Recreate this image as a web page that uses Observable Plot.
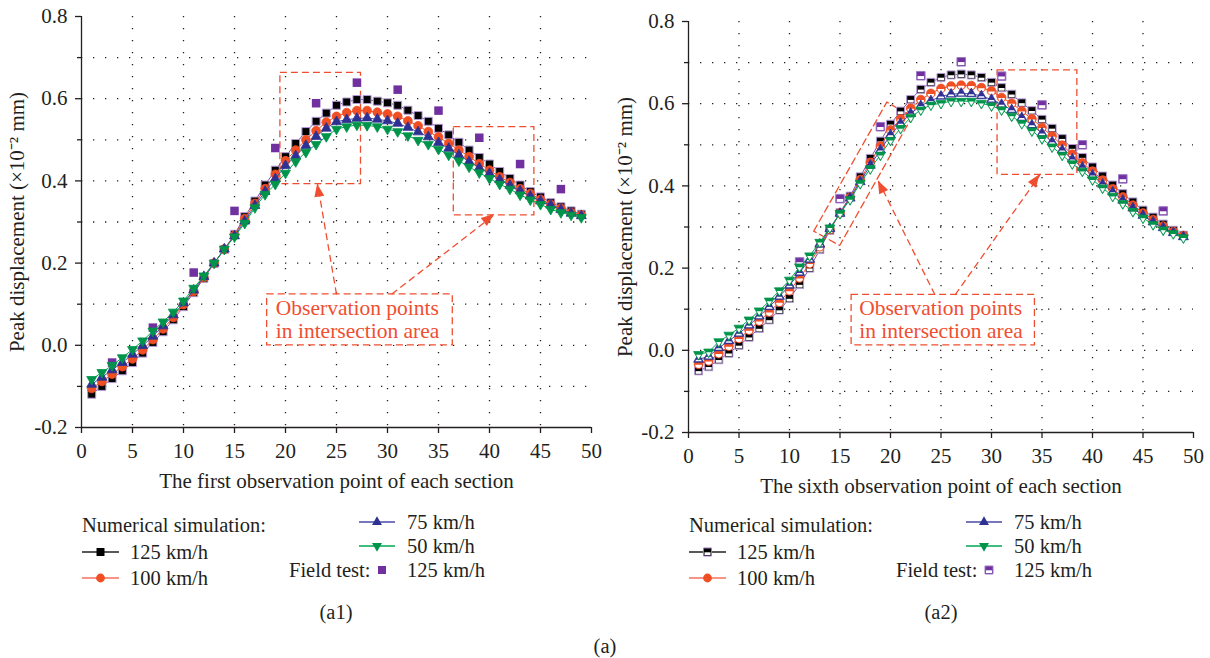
<!DOCTYPE html>
<html><head><meta charset="utf-8">
<script src="https://cdn.jsdelivr.net/npm/d3@7"></script>
<script src="https://cdn.jsdelivr.net/npm/@observablehq/plot@0.6"></script>
<style>
html,body{margin:0;padding:0;background:#fff;}
#root{position:relative;width:1210px;height:658px;overflow:hidden;font-family:"Liberation Serif","Times New Roman",serif;color:#231f20;}
.abs{position:absolute;white-space:nowrap;font-family:"Liberation Serif","Times New Roman",serif;font-size:20.5px;line-height:23px;height:23px;}
.plot{position:absolute;top:0;}
</style></head><body><div id="root"></div>
<script>
// ---------------- data ----------------
const obsPoints = [1,2,3,4,5,6,7,8,9,10,11,12,13,14,15,16,17,18,19,20,21,22,23,24,25,26,27,28,29,30,31,32,33,34,35,36,37,38,39,40,41,42,43,44,45,46,47,48,49];

const left125 = [-0.119,-0.100,-0.081,-0.062,-0.042,-0.019,0.007,0.033,0.062,0.094,
  0.128,0.163,0.199,0.233,0.270,0.313,0.351,0.390,0.426,0.459,
  0.491,0.520,0.545,0.565,0.584,0.592,0.598,0.598,0.594,0.590,
  0.584,0.572,0.559,0.545,0.528,0.512,0.494,0.475,0.457,0.441,
  0.423,0.406,0.390,0.374,0.361,0.347,0.337,0.327,0.319];
const left100 = [-0.105,-0.088,-0.070,-0.052,-0.033,-0.011,0.014,0.040,0.068,0.099,
  0.131,0.165,0.200,0.234,0.268,0.308,0.345,0.381,0.416,0.449,
  0.475,0.500,0.522,0.543,0.557,0.566,0.571,0.571,0.567,0.563,
  0.557,0.546,0.534,0.520,0.507,0.491,0.475,0.459,0.442,0.426,
  0.410,0.396,0.381,0.369,0.355,0.343,0.333,0.323,0.317];
const left75 = [-0.095,-0.078,-0.060,-0.042,-0.022,-0.001,0.022,0.047,0.074,0.103,
  0.134,0.167,0.200,0.234,0.266,0.302,0.340,0.374,0.405,0.437,
  0.461,0.486,0.508,0.528,0.544,0.549,0.552,0.553,0.550,0.546,
  0.540,0.530,0.519,0.507,0.493,0.479,0.463,0.447,0.432,0.418,
  0.403,0.389,0.376,0.363,0.351,0.341,0.330,0.321,0.315];
const left50 = [-0.083,-0.066,-0.049,-0.030,-0.010,0.011,0.035,0.057,0.081,0.108,
  0.139,0.169,0.200,0.234,0.264,0.297,0.335,0.367,0.392,0.419,
  0.447,0.470,0.489,0.508,0.526,0.532,0.536,0.535,0.532,0.526,
  0.520,0.510,0.499,0.489,0.477,0.463,0.449,0.434,0.420,0.406,
  0.392,0.380,0.366,0.354,0.343,0.331,0.323,0.317,0.311];
const leftFieldPoints = [3,7,11,15,19,23,27,31,35,39,43,47];
const leftField = [-0.042,0.043,0.177,0.327,0.480,0.589,0.639,0.622,0.571,0.505,0.441,0.380];

const right125 = [-0.050,-0.040,-0.023,-0.007,0.012,0.032,0.053,0.074,0.098,0.126,
  0.160,0.200,0.245,0.292,0.335,0.375,0.422,0.467,0.509,0.550,
  0.582,0.610,0.635,0.652,0.664,0.670,0.672,0.670,0.664,0.652,
  0.639,0.623,0.602,0.583,0.562,0.540,0.515,0.491,0.469,0.446,
  0.424,0.402,0.381,0.361,0.341,0.324,0.307,0.292,0.280];
const right100 = [-0.034,-0.026,-0.008,0.010,0.029,0.049,0.071,0.093,0.117,0.145,
  0.176,0.211,0.252,0.294,0.334,0.372,0.415,0.457,0.497,0.536,
  0.563,0.589,0.610,0.625,0.637,0.643,0.645,0.644,0.639,0.631,
  0.615,0.601,0.582,0.563,0.542,0.521,0.499,0.477,0.456,0.436,
  0.414,0.393,0.373,0.353,0.334,0.318,0.302,0.289,0.279];
const right75 = [-0.022,-0.015,0.006,0.023,0.041,0.061,0.083,0.106,0.131,0.158,
  0.189,0.221,0.258,0.296,0.333,0.370,0.410,0.450,0.487,0.524,
  0.552,0.576,0.595,0.607,0.618,0.623,0.625,0.624,0.619,0.610,
  0.598,0.585,0.566,0.548,0.528,0.507,0.487,0.465,0.445,0.426,
  0.404,0.385,0.365,0.346,0.328,0.312,0.298,0.286,0.276];
const right50 = [-0.010,-0.004,0.021,0.037,0.054,0.074,0.096,0.120,0.145,0.171,
  0.203,0.230,0.263,0.298,0.333,0.367,0.406,0.442,0.475,0.511,
  0.540,0.567,0.585,0.597,0.601,0.606,0.606,0.606,0.601,0.595,
  0.585,0.570,0.552,0.534,0.515,0.495,0.475,0.454,0.436,0.415,
  0.395,0.375,0.357,0.338,0.322,0.306,0.293,0.284,0.274];
const rightFieldPoints = [11,15,19,23,27,31,35,39,43,47];
const rightField = [0.215,0.369,0.544,0.668,0.702,0.667,0.597,0.500,0.417,0.339];

const xTicks = [0,5,10,15,20,25,30,35,40,45,50];
const xGridValues = [5,10,15,20,25,30,35,40,45];
const yTicks = [-0.2,0,0.2,0.4,0.6,0.8];
const yMinorTicks = [-0.1,0.1,0.3,0.5,0.7];
const yGridValues = [-0.1,0,0.1,0.2,0.3,0.4,0.5,0.6,0.7];

const yLabel = "Peak displacement (×10⁻² mm)";
const leftXLabel = "The first observation point of each section";
const rightXLabel = "The sixth observation point of each section";
const noteLines = ["Observation points", "in intersection area"];
const legendTitle = "Numerical simulation:";
const speedLabels = ["125 km/h", "100 km/h", "75 km/h", "50 km/h"];
const fieldLabel = "Field test:";

// annotation geometry (data coordinates)
const leftBoxes = [{x1:19.5,x2:27.4,y1:0.392,y2:0.663},{x1:36.5,x2:44.4,y1:0.316,y2:0.531}];
const leftNote = {x1:18.2,x2:36.4,y1:0.0,y2:0.124,tx:19.05,ty:[0.090,0.035]};
const leftArrows = [{x1:25.0,y1:0.124,x2:23.15,y2:0.392},{x1:30.4,y1:0.124,x2:40.5,y2:0.318}];
const rightBoxes = [{x1:30.6,x2:38.5,y1:0.427,y2:0.681}];
const rightTilted = [{x:12.4,y:0.290},{x:19.64,y:0.604},{x:22.13,y:0.568},{x:14.97,y:0.255},{x:12.4,y:0.290}];
const rightNote = {x1:16.15,x2:34.3,y1:0.012,y2:0.135,tx:16.9,ty:[0.102,0.047]};
const rightArrows = [{x1:24.4,y1:0.135,x2:18.8,y2:0.412},{x1:26.4,y1:0.135,x2:34.8,y2:0.427}];

// ---------------- styles ----------------
const FONT = '"Liberation Serif","Times New Roman",serif';
const INK = "#231f20";
const NOTE = "#f04e30";
const C125 = "#000000", C125edge = "#b59bd5", C125line = "#7b4fa6";
const C100 = "#f04e23";
const C75 = "#2e3192", C75line = "#4a4aa8";
const C50 = "#00944a", C50line = "#00a651";
const CFIELD = "#7030a0";

const SQ3 = Math.sqrt(3);
const triDown = {draw(c, size){ const y = Math.sqrt(size/(SQ3*3)); c.moveTo(0,2*y); c.lineTo(SQ3*y,-y); c.lineTo(-SQ3*y,-y); c.closePath(); }};
const halfSquare = {draw(c, size){ const h = Math.sqrt(size)/2 - 1; c.rect(-h, 0.3, 2*h, h-0.3); }};
const halfCircle = {draw(c, size){ const r = Math.sqrt(size/Math.PI) - 1.1; c.moveTo(r,0.5); c.arc(0,0.5,r,0,Math.PI); c.closePath(); }};
const halfTriUp = {draw(c, size){ const t = Math.sqrt(size/(SQ3*3)) - 0.9; const w = (2/3)*SQ3*t;
  c.moveTo(-w,0.3); c.lineTo(w,0.3); c.lineTo(SQ3*t,t); c.lineTo(-SQ3*t,t); c.closePath(); }};
const halfTriDown = {draw(c, size){ const t = (Math.sqrt(size/(SQ3*3)))*0.78; const w = (2/3)*SQ3*t;
  c.moveTo(-w,0.3); c.lineTo(w,0.3); c.lineTo(0,2*t); c.closePath(); }};

const R_SQ = 4.5, R_CI = 4.4, R_TR = 3.7;

function chart(cfg) {
  const ser = (arr, xsArr) => arr.map((v,i) => ({x: xsArr[i], y: v}));
  const d125 = ser(cfg.s125, obsPoints), d100 = ser(cfg.s100, obsPoints),
        d75 = ser(cfg.s75, obsPoints), d50 = ser(cfg.s50, obsPoints),
        dField = ser(cfg.field, cfg.fieldX);
  const half = cfg.half;
  const P = {x:"x", y:"y"};
  const marks = [
    Plot.gridY(yGridValues, {stroke: INK, strokeOpacity: 1, strokeWidth: 1.3, strokeDasharray: "1.3,10.7"}),
    Plot.gridX(xGridValues, {stroke: INK, strokeOpacity: 1, strokeWidth: 1.3, strokeDasharray: "1.3,10.7"}),
    Plot.rect(cfg.boxes, {x1:"x1", x2:"x2", y1:"y1", y2:"y2", fill:"none", stroke: NOTE, strokeWidth: 1.3, strokeDasharray: "7,4"}),
    Plot.rect([cfg.note], {x1:"x1", x2:"x2", y1:"y1", y2:"y2", fill:"white", stroke: NOTE, strokeWidth: 1.3, strokeDasharray: "7,4"}),
    Plot.link(cfg.arrows, {x1:"x1", y1:"y1", x2:"x2", y2:"y2", stroke: NOTE, strokeWidth: 1.3, strokeDasharray: "7,4"}),
    Plot.text(noteLines, {x: () => cfg.note.tx, y: (d,i) => cfg.note.ty[i], text: d => d, textAnchor: "start", fill: NOTE, fontSize: 21.5, fontFamily: FONT})
  ];
  if (cfg.tilted) marks.push(Plot.line(cfg.tilted, {x:"x", y:"y", stroke: NOTE, strokeWidth: 1.3, strokeDasharray: "7,4"}));
  // field test (drawn below the simulation series)
  marks.push(Plot.dot(dField, {...P, symbol: "square", r: R_SQ + 0.3, fill: CFIELD, stroke: half ? "#9b78c4" : "none", strokeWidth: 1}));
  if (half) marks.push(Plot.dot(dField, {...P, symbol: halfSquare, r: R_SQ + 0.3, fill: "white"}));
  // 125 km/h
  marks.push(Plot.line(d125, {...P, stroke: C125line, strokeWidth: 1}));
  marks.push(Plot.dot(d125, {...P, symbol: "square", r: R_SQ, fill: C125, stroke: C125edge, strokeWidth: 1}));
  if (half) marks.push(Plot.dot(d125, {...P, symbol: halfSquare, r: R_SQ, fill: "white"}));
  // 100 km/h
  marks.push(Plot.line(d100, {...P, stroke: C100, strokeWidth: 1}));
  marks.push(Plot.dot(d100, {...P, symbol: "circle", r: R_CI, fill: C100, stroke: C100, strokeWidth: 0.8}));
  if (half) marks.push(Plot.dot(d100, {...P, symbol: halfCircle, r: R_CI, fill: "white"}));
  // 75 km/h
  marks.push(Plot.line(d75, {...P, stroke: C75line, strokeWidth: 1}));
  marks.push(Plot.dot(d75, {...P, symbol: "triangle", r: R_TR, fill: C75, stroke: C75, strokeWidth: 0.8}));
  if (half) marks.push(Plot.dot(d75, {...P, symbol: halfTriUp, r: R_TR, fill: "white"}));
  // 50 km/h
  marks.push(Plot.line(d50, {...P, stroke: C50line, strokeWidth: 1}));
  marks.push(Plot.dot(d50, {...P, symbol: triDown, r: R_TR, fill: C50, stroke: C50, strokeWidth: 0.8}));
  if (half) marks.push(Plot.dot(d50, {...P, symbol: halfTriDown, r: R_TR, fill: "white"}));
  // axes
  marks.push(
    Plot.ruleX([0], {stroke: INK, strokeWidth: 1.3}),
    Plot.ruleY([-0.2], {stroke: INK, strokeWidth: 1.3}),
    Plot.axisY(yTicks, {tickSize: 6, tickPadding: 8, tickFormat: d => d.toFixed(1), fontSize: 21, fontFamily: FONT, label: null, stroke: INK, strokeWidth: 1.3}),
    Plot.axisY(yMinorTicks, {tickSize: 4, tickFormat: () => "", label: null, stroke: INK, strokeWidth: 1.3}),
    Plot.axisX(xTicks, {tickSize: 6, tickPadding: 10, fontSize: 21, fontFamily: FONT, label: null, stroke: INK, strokeWidth: 1.3}),
    Plot.text([yLabel], {frameAnchor: "left", textAnchor: "middle", rotate: -90, dx: cfg.ylabDx, text: d => d, fontSize: 21, fontFamily: FONT, fill: INK}),
    Plot.text([cfg.xLabel], {frameAnchor: "bottom", dy: 60, text: d => d, fontSize: 21, fontFamily: FONT, fill: INK})
  );
  const svg = Plot.plot({
    width: 605, height: 500,
    marginLeft: cfg.ml, marginRight: cfg.mr, marginTop: cfg.mt, marginBottom: cfg.mb,
    x: {domain: [0, 50], label: null},
    y: {domain: [-0.2, 0.8], label: null},
    style: {fontFamily: FONT, color: INK, background: "transparent", overflow: "visible"},
    marks
  });
  // filled arrow heads, placed with the plot's own scales
  const sx = svg.scale("x"), sy = svg.scale("y");
  const g = d3.select(svg).append("g").attr("fill", NOTE);
  for (const a of cfg.arrows) {
    const x1 = sx.apply(a.x1), y1 = sy.apply(a.y1), x2 = sx.apply(a.x2), y2 = sy.apply(a.y2);
    const L = Math.hypot(x2 - x1, y2 - y1), ux = (x2 - x1)/L, uy = (y2 - y1)/L;
    const bx = x2 - 13*ux, by = y2 - 13*uy, nx = -uy, ny = ux;
    g.append("path").attr("d", `M${x2},${y2}L${bx + 5*nx},${by + 5*ny}L${bx - 5*nx},${by - 5*ny}Z`);
  }
  svg.classList.add("plot");
  svg.style.left = cfg.left + "px";
  return svg;
}

const root = document.getElementById("root");
root.appendChild(chart({left: 0, ml: 81, mr: 14, mt: 16, mb: 73, ylabDx: -64,
  s125: left125, s100: left100, s75: left75, s50: left50, field: leftField, fieldX: leftFieldPoints,
  half: false, boxes: leftBoxes, note: leftNote, arrows: leftArrows, tilted: null, xLabel: leftXLabel}));
root.appendChild(chart({left: 605, ml: 83, mr: 17, mt: 21, mb: 68, ylabDx: -63,
  s125: right125, s100: right100, s75: right75, s50: right50, field: rightField, fieldX: rightFieldPoints,
  half: true, boxes: rightBoxes, note: rightNote, arrows: rightArrows, tilted: rightTilted, xLabel: rightXLabel}));

// ---------------- legends ----------------
function addText(txt, left, cy, center) {
  const d = document.createElement("div");
  d.className = "abs"; d.textContent = txt;
  d.style.left = left + "px"; d.style.top = (cy - 11.5) + "px";
  if (center) d.style.transform = "translateX(-50%)";
  root.appendChild(d);
}
function sym(type, r) { return d3.symbol(type, r*r*Math.PI)(); }
function swatch(left, cy, w, lineColor, parts) {
  const s = d3.create("svg").attr("width", w + 10).attr("height", 20)
    .style("position", "absolute").style("left", (left - 5) + "px").style("top", (cy - 10) + "px").style("overflow", "visible");
  if (lineColor) s.append("line").attr("x1", 5).attr("x2", w + 5).attr("y1", 10).attr("y2", 10).attr("stroke", lineColor).attr("stroke-width", 1.3);
  for (const p of parts) s.append("path").attr("transform", `translate(${5 + w/2},10)`).attr("d", sym(p.type, p.r))
    .attr("fill", p.fill).attr("stroke", p.stroke || "none").attr("stroke-width", 1);
  root.appendChild(s.node());
}
function legend(ox, half) {
  addText(legendTitle, ox + 1, 525);
  swatch(ox + 1, 552, 37, INK, half
    ? [{type: d3.symbolSquare, r: R_SQ, fill: C125, stroke: "#9b78c4"}, {type: halfSquare, r: R_SQ, fill: "white"}]
    : [{type: d3.symbolSquare, r: R_SQ, fill: C125}]);
  addText(speedLabels[0], ox + 49, 552);
  swatch(ox + 1, 578, 37, "#f4715a", [{type: d3.symbolCircle, r: R_CI, fill: C100}]);
  addText(speedLabels[1], ox + 49, 578);
  swatch(ox + 278, 522, 36, C75line, [{type: d3.symbolTriangle, r: R_TR, fill: C75}]);
  addText(speedLabels[2], ox + 326, 522);
  swatch(ox + 278, 546, 36, C50line, [{type: triDown, r: R_TR, fill: C50}]);
  addText(speedLabels[3], ox + 326, 546);
  addText(fieldLabel, ox + 208, 570);
  swatch(ox + 295, 570, 12, null, half
    ? [{type: d3.symbolSquare, r: R_SQ, fill: CFIELD, stroke: "#9b78c4"}, {type: halfSquare, r: R_SQ, fill: "white"}]
    : [{type: d3.symbolSquare, r: R_SQ, fill: CFIELD}]);
  addText(speedLabels[0], ox + 326, 570);
}
legend(81, false);
legend(688, true);
addText("(a1)", 336, 612, true);
addText("(a2)", 941, 612, true);
addText("(a)", 605, 646, true);
</script></body></html>
